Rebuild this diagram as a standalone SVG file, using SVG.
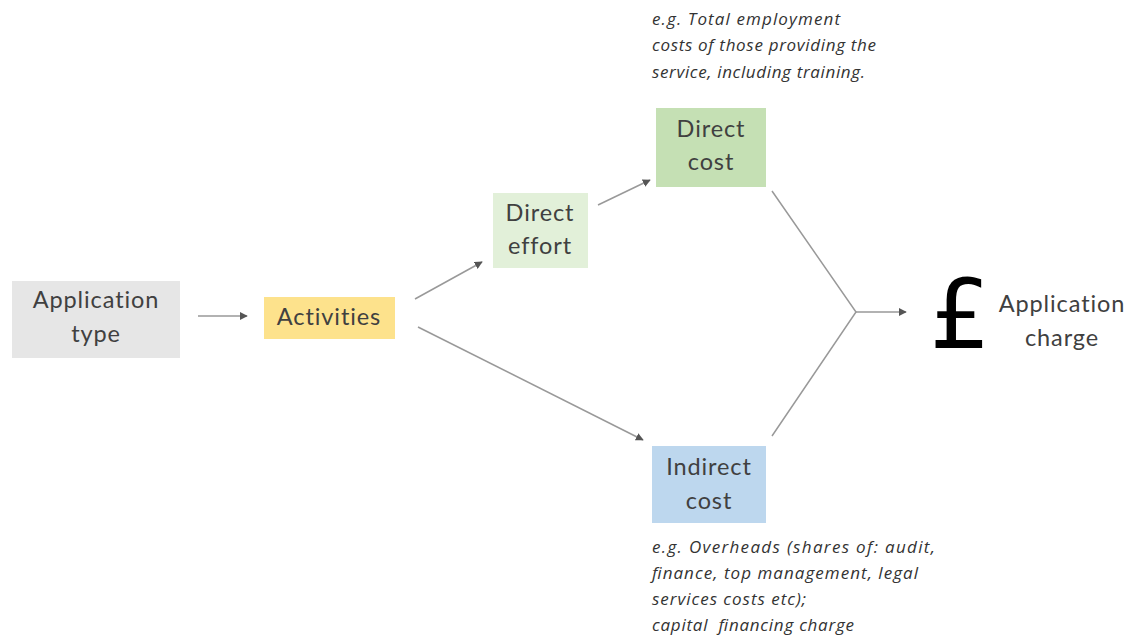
<svg xmlns="http://www.w3.org/2000/svg" width="1130" height="635" viewBox="0 0 1130 635">
<style>
.lbl{font-family:Lato,"Open Sans",sans-serif;font-size:23.5px;letter-spacing:0.9px;fill:#404040;text-anchor:middle}
.note{font-family:"Open Sans",sans-serif;font-style:italic;font-size:17px;fill:#333;white-space:pre}
.ln{stroke:#999;stroke-width:1.5;fill:none}
</style>
<defs>
<marker id="ah" viewBox="0 0 10 10" refX="9" refY="5" markerWidth="8" markerHeight="8" markerUnits="userSpaceOnUse" orient="auto">
<path d="M0,0 L10,5 L0,10 z" fill="#555"/>
</marker>
</defs>
<rect width="1130" height="635" fill="#fff"/>
<g id="connectors">
<line class="ln" x1="198" y1="316" x2="247" y2="316" marker-end="url(#ah)"/>
<line class="ln" x1="415" y1="299" x2="482" y2="262" marker-end="url(#ah)"/>
<line class="ln" x1="598" y1="205" x2="650" y2="180" marker-end="url(#ah)"/>
<line class="ln" x1="418" y1="327" x2="643" y2="440" marker-end="url(#ah)"/>
<polyline class="ln" points="772,191 856,312 772,436"/>
<line class="ln" x1="856" y1="312" x2="906" y2="312" marker-end="url(#ah)"/>
</g>
<g id="application-type">
<rect x="12" y="281" width="168" height="77" fill="#e6e6e6"/>
<text class="lbl" x="96" y="308">Application</text>
<text class="lbl" x="96" y="342">type</text>
</g>
<g id="activities">
<rect x="264" y="297" width="131" height="42" fill="#fde28c"/>
<text class="lbl" x="329" y="325">Activities</text>
</g>
<g id="direct-effort">
<rect x="493" y="193" width="95" height="75" fill="#e2f0d9"/>
<text class="lbl" x="540" y="221">Direct</text>
<text class="lbl" x="540" y="254">effort</text>
</g>
<g id="direct-cost">
<rect x="656" y="108" width="110" height="79" fill="#c5e0b4"/>
<text class="lbl" x="711" y="137">Direct</text>
<text class="lbl" x="711" y="170">cost</text>
</g>
<g id="indirect-cost">
<rect x="652" y="446" width="114" height="77" fill="#bdd7ee"/>
<text class="lbl" x="709" y="475">Indirect</text>
<text class="lbl" x="709" y="509">cost</text>
</g>
<g id="application-charge">
<text x="960" y="348" font-family="DejaVu Sans,sans-serif" font-size="96" fill="#000" text-anchor="middle">£</text>
<text class="lbl" x="1062" y="312">Application</text>
<text class="lbl" x="1062" y="346">charge</text>
</g>
<g id="notes">
<text class="note" x="652" y="25" textLength="188" lengthAdjust="spacing">e.g. Total employment</text>
<text class="note" x="652" y="51" textLength="224" lengthAdjust="spacing">costs of those providing the</text>
<text class="note" x="652" y="78" textLength="213" lengthAdjust="spacing">service, including training.</text>
<text class="note" x="652" y="553" textLength="283" lengthAdjust="spacing">e.g. Overheads (shares of: audit,</text>
<text class="note" x="652" y="579" textLength="266" lengthAdjust="spacing">finance, top management, legal</text>
<text class="note" x="652" y="605" textLength="154" lengthAdjust="spacing">services costs etc);</text>
<text class="note" x="652" y="631" textLength="202" lengthAdjust="spacing">capital  financing charge</text>
</g>
</svg>
